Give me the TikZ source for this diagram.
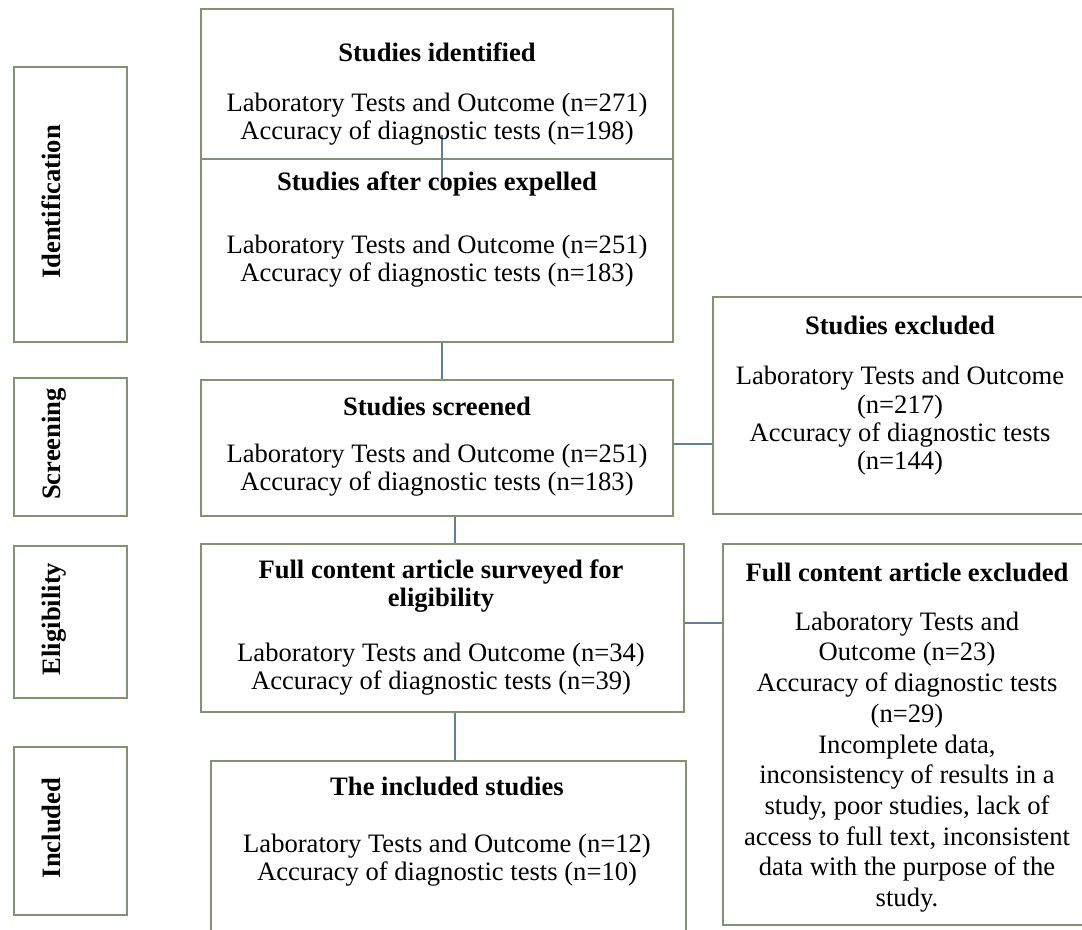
\documentclass[tikz,border=0pt]{standalone}
\usepackage{fontspec}
\setmainfont{Liberation Serif}
\usetikzlibrary{fit,calc}

\definecolor{boxgreen}{RGB}{128,148,112}
\definecolor{linkblue}{RGB}{96,128,150}

\tikzset{
	frame/.style={draw=boxgreen, line width=1pt, inner sep=0pt},
	head/.style={font=\fontsize{13.3}{14.2}\selectfont\bfseries, align=center, inner sep=0pt},
	body/.style={font=\fontsize{13.3}{14.2}\selectfont, align=center, inner sep=0pt},
	phase/.style={font=\fontsize{13.3}{14.2}\selectfont\bfseries, rotate=90, anchor=base, inner sep=0pt},
	link/.style={draw=linkblue, line width=0.75pt},
}

\begin{document}
\begin{tikzpicture}[x=0.5pt, y=-0.5pt]

	% ---- canvas (pixel grid of the reference)

	\useasboundingbox (0,0) rectangle (1082,930);
	\clip (0,0) rectangle (1082,930);

	% ---- phase boxes

	\node[frame, fit={(14,67) (127,342)}] (idbox) {};
	\node[frame, fit={(14,378) (127,516)}] (scbox) {};
	\node[frame, fit={(14,546) (127,698)}] (elbox) {};
	\node[frame, fit={(14,747) (127,915)}] (inbox) {};

	\node[phase] (idlab) at (60,202) {Identification};
	\node[phase] (sclab) at (60,444) {Screening};
	\node[phase] (ellab) at (60,619) {Eligibility};
	\node[phase] (inlab) at (60,828) {Included};

	% ---- main column

	\node[frame, fit={(201,9) (673,159)}] (ident) {};
	\node[frame, fit={(201,159) (673,342)}] (copies) {};
	\node[frame, fit={(201,380) (673,516)}] (screen) {};
	\node[frame, fit={(201,544) (684,712)}] (survey) {};
	\node[frame, fit={(211,761) (686,960)}] (incl) {};

	% ---- exclusion column

	\node[frame, fit={(713,297) (1090,514)}] (excl) {};
	\node[frame, fit={(723,544) (1095,925)}] (surveyx) {};

	% ---- connectors

	\coordinate (dupTop) at (442,135);
	\coordinate (dupBot) at (442,185);
	\coordinate (spine) at (455,0);
	\coordinate (cut1) at (0,444);
	\coordinate (cut2) at (0,623);

	\draw[link] (dupTop) -- (dupBot);
	\draw[link] (copies.south -| dupTop) -- (screen.north -| dupTop);
	\draw[link] (screen.south -| spine) -- (survey.north -| spine);
	\draw[link] (survey.south -| spine) -- (incl.north -| spine);
	\draw[link] (screen.east |- cut1) -- (excl.west |- cut1);
	\draw[link] (survey.east |- cut2) -- (surveyx.west |- cut2);

	% ---- texts

	\node[head] (identH) at (437,52) {Studies identified};
	\node[body] (identB) at (437,119) {Laboratory Tests and Outcome (n=271)\\Accuracy of diagnostic tests (n=198)};

	\node[head] (copiesH) at (437,184) {Studies after copies expelled};
	\node[body] (copiesB) at (437,261) {Laboratory Tests and Outcome (n=251)\\Accuracy of diagnostic tests (n=183)};

	\node[head] (screenH) at (437,406) {Studies screened};
	\node[body] (screenB) at (437,470) {Laboratory Tests and Outcome (n=251)\\Accuracy of diagnostic tests (n=183)};

	\node[head] (surveyH) at (441,586) {Full content article surveyed for\\eligibility};
	\node[body] (surveyB) at (441,669) {Laboratory Tests and Outcome (n=34)\\Accuracy of diagnostic tests (n=39)};

	\node[head] (inclH) at (447,786) {The included studies};
	\node[body] (inclB) at (447,860) {Laboratory Tests and Outcome (n=12)\\Accuracy of diagnostic tests (n=10)};

	\node[head] (exclH) at (900,325) {Studies excluded};
	\node[body] (exclB) at (900,421) {Laboratory Tests and Outcome\\(n=217)\\Accuracy of diagnostic tests\\(n=144)};

	\node[head] (surveyxH) at (907,572) {Full content article excluded};
	\node[body, font=\fontsize{13.3}{15.35}\selectfont] (surveyxB) at (907,762)
	{Laboratory Tests and\\Outcome (n=23)\\Accuracy of diagnostic tests\\(n=29)\\Incomplete data,\\inconsistency of results in a\\study, poor studies, lack of\\access to full text, inconsistent\\data with the purpose of the\\study.};

\end{tikzpicture}
\end{document}
